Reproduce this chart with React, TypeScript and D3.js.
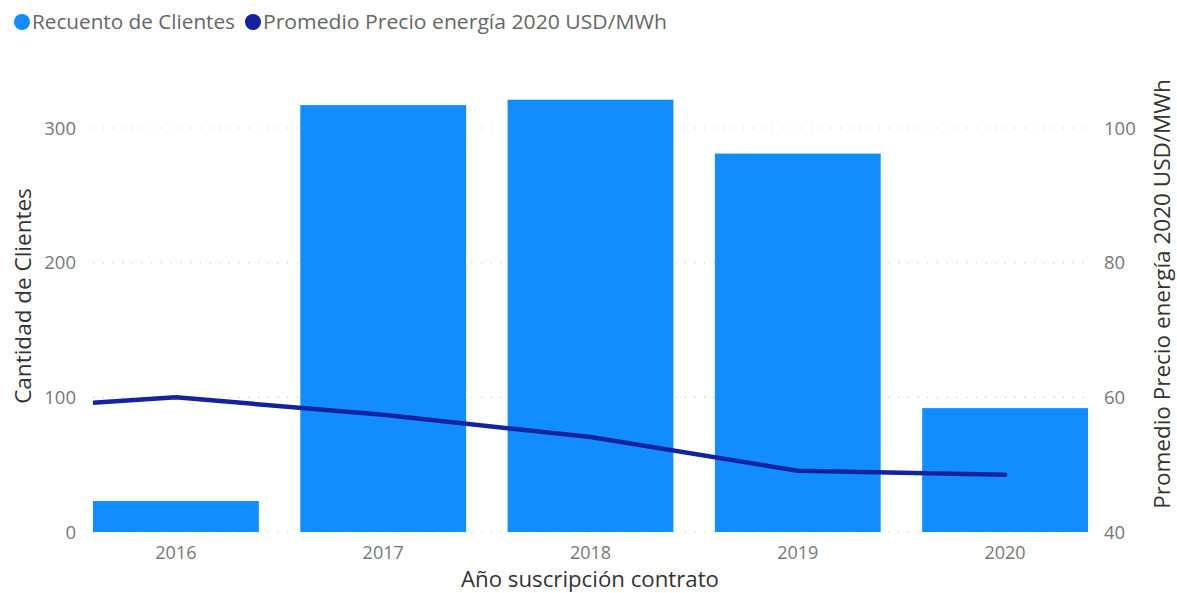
import { useEffect, useRef } from 'react';
import * as d3 from 'd3';

// data
const years = ['2016', '2017', '2018', '2019', '2020'];
const clientes = [23, 317, 321, 281, 92];
// line has a point before the first year, clipped by the plot edge
const lineYears = ['2015', '2016', '2017', '2018', '2019', '2020'];
const precio = [58.0, 60.0, 57.4, 54.1, 49.1, 48.5];
const leftTicks = [0, 100, 200, 300];
const rightTicks = [40, 60, 80, 100];

const W = 1177;
const H = 593;
const FONT = '"Open Sans", "Noto Sans", sans-serif';

export default function App() {
  const svgRef = useRef<SVGSVGElement | null>(null);

  useEffect(() => {
    if (!svgRef.current) return;
    const svg = d3.select(svgRef.current);
    svg.selectAll('*').remove();

    const left = 93, right = 1088, top = 128, bottom = 532;

    const x = d3.scaleBand<string>().domain(years).range([left, right]).paddingInner(0.2).paddingOuter(0);
    const yL = d3.scaleLinear().domain([0, 300]).range([bottom, top]);
    const yR = d3.scaleLinear().domain([40, 100]).range([bottom, top]);

    const cx = (yr: string) => {
      const i = +yr - +years[0];
      return x(years[0])! + x.bandwidth() / 2 + i * x.step();
    };

    // legend
    const legend = svg.append('g');
    legend.append('circle').attr('cx', 22).attr('cy', 22).attr('r', 8).attr('fill', '#118DFF');
    legend.append('text').attr('x', 32).attr('y', 29).text('Recuento de Clientes')
      .attr('font-family', FONT).attr('font-size', 20.5).attr('fill', '#666')
      .attr('textLength', 203).attr('lengthAdjust', 'spacingAndGlyphs');
    legend.append('circle').attr('cx', 253).attr('cy', 22).attr('r', 8).attr('fill', '#12239E');
    legend.append('text').attr('x', 263).attr('y', 29).text('Promedio Precio energía 2020 USD/MWh')
      .attr('font-family', FONT).attr('font-size', 20.5).attr('fill', '#666')
      .attr('textLength', 404).attr('lengthAdjust', 'spacingAndGlyphs');

    // gridlines
    svg.append('g').selectAll('line').data(leftTicks).join('line')
      .attr('x1', left).attr('x2', right + 2)
      .attr('y1', d => yL(d)).attr('y2', d => yL(d))
      .attr('stroke', '#c8c8c8').attr('stroke-width', 1.2).attr('stroke-dasharray', '1.2,8.5');

    // bars
    svg.append('g').selectAll('rect').data(years).join('rect')
      .attr('x', d => x(d)!)
      .attr('width', x.bandwidth())
      .attr('y', (d, i) => yL(clientes[i]))
      .attr('height', (d, i) => bottom - yL(clientes[i]))
      .attr('fill', '#118DFF');

    // line
    svg.append('clipPath').attr('id', 'plotclip').append('rect')
      .attr('x', left).attr('y', 0).attr('width', right - left).attr('height', H);
    const line = d3.line<number>()
      .x((d, i) => cx(lineYears[i]))
      .y(d => yR(d));
    svg.append('path').datum(precio)
      .attr('d', line)
      .attr('fill', 'none')
      .attr('stroke', '#12239E')
      .attr('stroke-width', 4.5)
      .attr('stroke-linejoin', 'round')
      .attr('stroke-linecap', 'round')
      .attr('clip-path', 'url(#plotclip)');

    // left axis labels
    svg.append('g').selectAll('text').data(leftTicks).join('text')
      .attr('x', 76).attr('y', d => yL(d) + 6.5)
      .attr('text-anchor', 'end')
      .attr('font-family', FONT).attr('font-size', 18.5).attr('fill', '#777')
      .text(d => d);

    // right axis labels
    svg.append('g').selectAll('text').data(rightTicks).join('text')
      .attr('x', 1104).attr('y', d => yR(d) + 6.5)
      .attr('text-anchor', 'start')
      .attr('font-family', FONT).attr('font-size', 18.5).attr('fill', '#777')
      .text(d => d);

    // x axis labels
    svg.append('g').selectAll('text').data(years).join('text')
      .attr('x', d => x(d)! + x.bandwidth() / 2).attr('y', 559)
      .attr('text-anchor', 'middle')
      .attr('font-family', FONT).attr('font-size', 18).attr('fill', '#777')
      .text(d => d);

    // axis titles
    svg.append('text')
      .attr('transform', `translate(31,296) rotate(-90)`)
      .attr('text-anchor', 'middle')
      .attr('font-family', FONT).attr('font-size', 22.5).attr('fill', '#333')
      .text('Cantidad de Clientes');
    svg.append('text')
      .attr('transform', `translate(1170,294) rotate(-90)`)
      .attr('text-anchor', 'middle')
      .attr('font-family', FONT).attr('font-size', 22.5).attr('fill', '#333')
      .text('Promedio Precio energía 2020 USD/MWh');
    svg.append('text')
      .attr('x', 590).attr('y', 586.5)
      .attr('text-anchor', 'middle')
      .attr('font-family', FONT).attr('font-size', 21).attr('fill', '#333')
      .attr('textLength', 258).attr('lengthAdjust', 'spacingAndGlyphs')
      .text('Año suscripción contrato');
  }, []);

  return (
    <div style={{ position: 'fixed', left: 0, top: 0 }}>
      <svg ref={svgRef} width={W} height={H} style={{ display: 'block', background: '#fff' }} />
    </div>
  );
}
